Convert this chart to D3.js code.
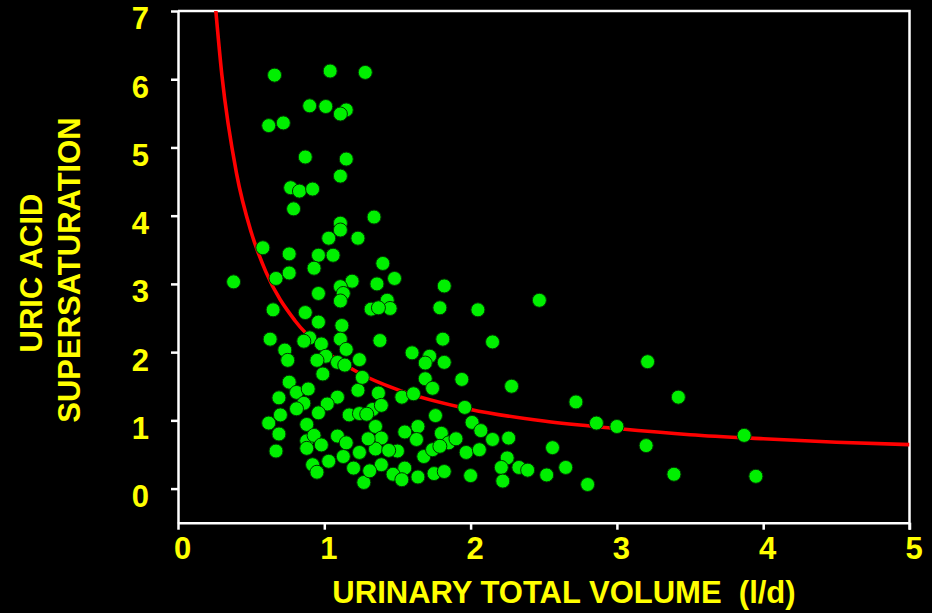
<!DOCTYPE html>
<html>
<head>
<meta charset="utf-8">
<script src="https://cdn.jsdelivr.net/npm/d3@7"></script>
<style>
  body { margin: 0; background: #000; }
  svg { display: block; font-family: Arial, "Liberation Sans", sans-serif; }
</style>
</head>
<body>
<svg id="chart" width="932" height="613"></svg>
<script>
// urinary volume (l/d) for each patient
const volume = [
  0.66, 1.04, 1.28, 0.90, 1.01, 1.15, 1.11, 0.62, 0.72, 0.87,
  1.15, 1.11, 0.77, 0.83, 0.92, 0.79, 1.34, 1.11, 1.11, 1.03,
  1.23, 0.58, 0.76, 0.96, 1.06, 0.76, 0.67, 0.38, 0.93, 1.19,
  1.11, 1.13, 1.11, 0.96, 0.65, 0.87, 0.96, 1.12, 0.90, 0.86,
  0.98, 0.63, 1.11, 1.15, 0.73, 1.01, 1.24, 1.09, 1.14, 0.99,
  1.23, 0.76, 0.81, 0.89, 0.86, 0.69, 1.09, 1.02, 0.81, 0.70,
  0.96, 1.17, 1.24, 0.62, 0.88, 0.69, 1.09, 0.88, 0.93, 0.98,
  1.15, 0.67, 1.13, 1.24, 0.88, 0.92, 1.03, 0.95, 1.20, 1.27,
  1.40, 1.48, 1.36, 1.43, 1.32, 1.45, 1.37, 1.82, 1.79, 2.05,
  1.38, 1.81, 2.15, 1.60, 1.72, 1.69, 1.82, 1.26, 1.94, 2.28,
  1.69, 1.74, 1.37, 1.53, 1.61, 1.96, 1.33, 1.39, 1.76, 2.01,
  1.64, 1.35, 2.07, 2.15, 2.26, 1.39, 1.80, 1.85, 1.90, 1.63,
  1.55, 1.35, 1.50, 1.68, 1.74, 1.97, 2.06, 2.25, 2.21, 2.33,
  1.39, 1.31, 1.55, 1.47, 1.53, 1.64, 1.75, 1.82, 2.00, 2.22,
  2.47, 3.21, 2.72, 3.42, 2.86, 3.00, 3.87, 2.56, 3.20, 2.39,
  2.52, 2.65, 2.80, 3.39, 3.95, 1.30, 1.44, 1.79, 1.29, 0.75,
  0.95
];
// uric acid supersaturation for each patient
const supersat = [
  6.06, 6.12, 6.10, 5.61, 5.60, 5.55, 5.49, 5.32, 5.36, 4.86,
  4.83, 4.58, 4.41, 4.36, 4.39, 4.10, 3.98, 3.89, 3.79, 3.67,
  3.67, 3.53, 3.44, 3.42, 3.42, 3.16, 3.08, 3.03, 3.23, 3.04,
  2.96, 2.86, 2.75, 2.86, 2.62, 2.58, 2.44, 2.39, 2.21, 2.16,
  2.12, 2.19, 2.19, 2.04, 2.03, 1.94, 1.89, 1.85, 1.81, 1.68,
  1.44, 1.56, 1.41, 1.46, 1.25, 1.33, 1.34, 1.24, 1.17, 1.08,
  1.11, 1.08, 1.10, 0.96, 0.94, 0.80, 0.77, 0.70, 0.78, 0.64,
  0.67, 0.55, 0.47, 0.53, 0.59, 0.35, 0.40, 0.24, 0.30, 0.09,
  3.30, 3.08, 3.00, 2.76, 2.63, 2.64, 2.65, 2.97, 2.65, 2.62,
  2.17, 2.19, 2.15, 1.99, 1.94, 1.84, 1.85, 1.63, 1.60, 1.50,
  1.61, 1.47, 1.40, 1.34, 1.39, 1.19, 1.16, 1.22, 1.07, 0.97,
  0.91, 0.91, 0.85, 0.72, 0.74, 0.74, 0.81, 0.67, 0.73, 0.72,
  0.83, 0.58, 0.55, 0.47, 0.57, 0.53, 0.57, 0.45, 0.31, 0.31,
  0.35, 0.26, 0.30, 0.21, 0.13, 0.17, 0.22, 0.25, 0.19, 0.11,
  2.76, 1.86, 1.27, 1.34, 0.96, 0.91, 0.78, 0.60, 0.63, 0.27,
  0.20, 0.31, 0.06, 0.21, 0.18, 0.73, 0.56, 0.62, 1.09, 1.88,
  1.88
];
// red fitted curve
const fitX = [0.25, 0.3, 0.4, 0.5, 0.6, 0.8, 1.0, 1.25, 1.5, 2.0, 2.5, 3.0, 3.5, 4.0, 4.5, 5.0];
const fitY = [7.21, 6.06, 4.62, 3.76, 3.18, 2.46, 2.03, 1.68, 1.45, 1.16, 0.99, 0.88, 0.79, 0.73, 0.68, 0.645];

const xTicks = [0, 1, 2, 3, 4, 5];
const yTicks = [0, 1, 2, 3, 4, 5, 6, 7];

const svg = d3.select("#chart"),
    W = +svg.attr("width"),
    H = +svg.attr("height"),
    m = {top: 11, right: 22.5, bottom: 90.3, left: 178};

svg.append("rect").attr("width", W).attr("height", H).attr("fill", "#000");

let x = d3.scaleLinear().domain([0, 5]).range([m.left, W - m.right]),
    y = d3.scaleLinear().domain([-0.5, 7]).range([H - m.bottom, m.top]);

svg.append("clipPath").attr("id", "plot").append("rect")
    .attr("x", x(0)).attr("y", y(7)).attr("width", x(5) - x(0)).attr("height", y(-0.5) - y(7));

// frame top + right
svg.append("path").attr("fill", "none").attr("stroke", "#fff").attr("stroke-width", 2.5)
    .attr("d", "M" + x(0) + "," + y(7) + "H" + x(5) + "V" + (y(-0.5) + 7));

const styleAxis = g => {
    g.select(".domain").attr("stroke", "#fff").attr("stroke-width", 2.5);
    g.selectAll(".tick line").attr("stroke", "#fff").attr("stroke-width", 2.5);
    g.selectAll("text").attr("fill", "#ffff00").attr("font-size", 31).attr("font-weight", "bold")
        .attr("font-family", "Arial, 'Liberation Sans', sans-serif");
};

svg.append("g").attr("transform", "translate(0," + y(-0.5) + ")")
    .call(d3.axisBottom(x).tickValues(xTicks).tickFormat(d3.format("d")).tickSize(7).tickPadding(7).tickSizeOuter(0))
    .call(styleAxis)
    .call(g => g.selectAll("text").attr("dx", 4));

svg.append("g").attr("transform", "translate(" + x(0) + ",0)")
    .call(d3.axisLeft(y).tickValues(yTicks).tickFormat(d3.format("d")).tickSize(7).tickPadding(22).tickSizeOuter(0))
    .call(styleAxis)
    .call(g => g.selectAll("text").attr("dy", "0.58em"));

// fitted curve sits behind the dots
svg.append("path").datum(fitX.map((v, i) => [v, fitY[i]]))
    .attr("clip-path", "url(#plot)")
    .attr("fill", "none").attr("stroke", "#ff0000").attr("stroke-width", 3.6)
    .attr("d", d3.line().curve(d3.curveMonotoneX).x(d => x(d[0])).y(d => y(d[1])));

svg.append("g").selectAll("circle").data(volume.map((v, i) => [v, supersat[i]])).enter()
    .append("circle")
    .attr("cx", d => x(d[0])).attr("cy", d => y(d[1])).attr("r", 7)
    .attr("fill", "#00f000").attr("stroke", "#003300").attr("stroke-width", 1);

// axis titles
svg.append("text").attr("x", 564).attr("y", 603).attr("text-anchor", "middle")
    .attr("fill", "#ffff00").attr("font-size", 31).attr("font-weight", "bold")
    .style("white-space", "pre").text("URINARY TOTAL VOLUME  (l/d)");

const yt = svg.append("text").attr("transform", "rotate(-90)").attr("text-anchor", "middle")
    .attr("fill", "#ffff00").attr("font-size", 31).attr("font-weight", "bold");
yt.append("tspan").attr("x", -273).attr("y", 42).text("URIC ACID");
yt.append("tspan").attr("x", -270).attr("y", 80).text("SUPERSATURATION");
</script>
</body>
</html>
